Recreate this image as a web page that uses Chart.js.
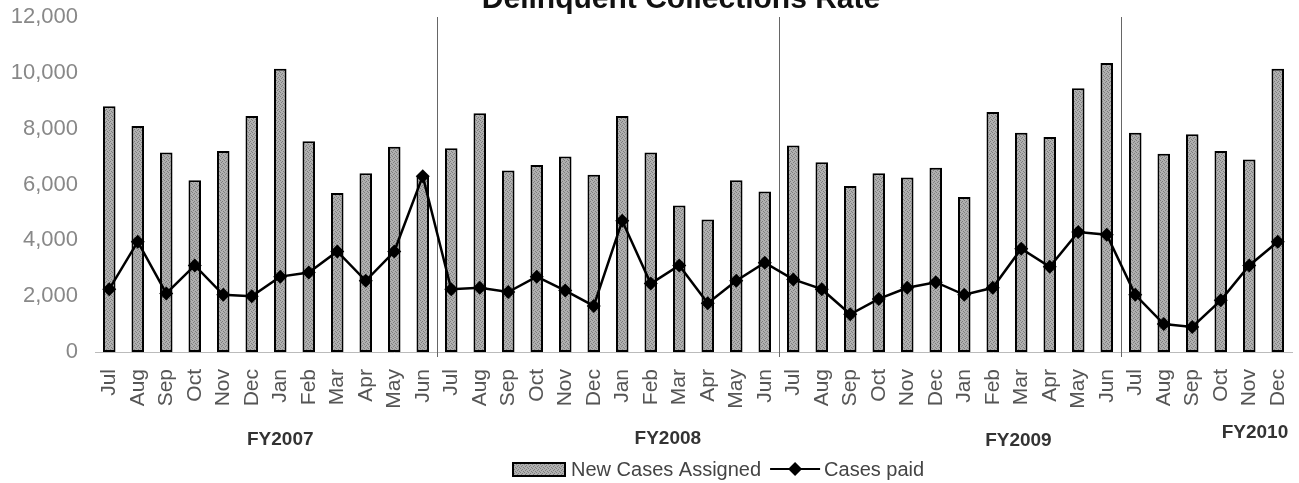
<!DOCTYPE html>
<html>
<head>
<meta charset="utf-8">
<script src="https://cdn.jsdelivr.net/npm/chart.js@4.4.1/dist/chart.umd.min.js"></script>
<style>
  html, body { margin: 0; padding: 0; background: #fff; }
  #wrap { width: 1299px; height: 483px; position: relative; }
</style>
</head>
<body>
<div id="wrap"><canvas id="grafica"></canvas></div>
<script>
const meses = ['Jul','Aug','Sep','Oct','Nov','Dec','Jan','Feb','Mar','Apr','May','Jun',
               'Jul','Aug','Sep','Oct','Nov','Dec','Jan','Feb','Mar','Apr','May','Jun',
               'Jul','Aug','Sep','Oct','Nov','Dec','Jan','Feb','Mar','Apr','May','Jun',
               'Jul','Aug','Sep','Oct','Nov','Dec'];

const nuevos_casos = [8800, 8100, 7150, 6150, 7200, 8450, 10150, 7550, 5700, 6400, 7350, 6300,
                      7300, 8550, 6500, 6700, 7000, 6350, 8450, 7150, 5250, 4750, 6150, 5750,
                      7400, 6800, 5950, 6400, 6250, 6600, 5550, 8600, 7850, 7700, 9450, 10350,
                      7850, 7100, 7800, 7200, 6900, 10150];

const casos_pagados = [2250, 3950, 2100, 3100, 2050, 2000, 2700, 2850, 3600, 2550, 3600, 6300,
                       2250, 2300, 2150, 2700, 2200, 1650, 4700, 2450, 3100, 1750, 2550, 3200,
                       2600, 2250, 1350, 1900, 2300, 2500, 2050, 2300, 3700, 3050, 4300, 4200,
                       2050, 1000, 900, 1850, 3100, 3950];

const anios_fiscales = ['FY2007', 'FY2008', 'FY2009', 'FY2010'];
const cortes_fy = [12, 24, 36];  // first month index of each new fiscal year

const titulo = 'Delinquent Collections Rate';
const leyenda = ['New Cases Assigned', 'Cases paid'];

const fuente = 'Arial, "Liberation Sans", sans-serif';

// textura gris punteada para las barras
function crearTextura(ctx) {
  const c = document.createElement('canvas');
  c.width = 4; c.height = 4;
  const p = c.getContext('2d');
  p.fillStyle = '#b0b0b0';
  p.fillRect(0, 0, 4, 4);
  p.fillStyle = '#7e7e7e';
  [[0,0],[2,1],[1,2],[3,3]].forEach(([x, y]) => p.fillRect(x, y, 1, 1));
  return ctx.createPattern(c, 'repeat');
}

const ctx = document.getElementById('grafica').getContext('2d');
const textura = crearTextura(ctx);

// titulo, separadores de año fiscal, etiquetas FY y leyenda
const extras = {
  id: 'extras',
  beforeDatasetsDraw(chart) {
    const c = chart.ctx, x = chart.scales.x, area = chart.chartArea;
    c.save();
    c.strokeStyle = '#666';
    c.lineWidth = 1;
    cortes_fy.forEach(i => {
      const px = Math.round((x.getPixelForValue(i - 1) + x.getPixelForValue(i)) / 2) + 0.5;
      c.beginPath();
      c.moveTo(px, area.top);
      c.lineTo(px, area.bottom + 5);
      c.stroke();
    });
    c.restore();
  },
  afterDraw(chart) {
    const c = chart.ctx, x = chart.scales.x;
    c.save();
    // titulo (cortado arriba como en el original)
    c.fillStyle = '#111';
    c.font = 'bold 30px ' + fuente;
    c.textAlign = 'center';
    c.textBaseline = 'alphabetic';
    c.fillText(titulo, 681, 8);

    // etiquetas de año fiscal
    const pos_fy = [6.0, 19.6, 31.9, 40.2];
    const y_fy = [440, 439, 441, 433];
    const paso = x.getPixelForValue(1) - x.getPixelForValue(0);
    c.font = 'bold 19px ' + fuente;
    c.fillStyle = '#333';
    c.textBaseline = 'middle';
    anios_fiscales.forEach((t, i) => {
      c.fillText(t, x.getPixelForValue(0) + pos_fy[i] * paso, y_fy[i]);
    });

    // leyenda
    const ly = 469;
    c.font = '20px ' + fuente;
    c.textAlign = 'left';
    c.fillStyle = textura;
    c.fillRect(513, 463, 52, 13);
    c.strokeStyle = '#000';
    c.lineWidth = 2;
    c.strokeRect(513, 463, 52, 13);
    c.fillStyle = '#444';
    c.fillText(leyenda[0], 571, ly + 1);
    const lx = 571 + c.measureText(leyenda[0]).width + 9;
    c.beginPath();
    c.moveTo(lx, ly);
    c.lineTo(lx + 50, ly);
    c.stroke();
    c.fillStyle = '#000';
    c.beginPath();
    c.moveTo(lx + 25, ly - 7);
    c.lineTo(lx + 32, ly);
    c.lineTo(lx + 25, ly + 7);
    c.lineTo(lx + 18, ly);
    c.closePath();
    c.fill();
    c.fillStyle = '#444';
    c.fillText(leyenda[1], lx + 54, ly + 1);
    c.restore();
  }
};

new Chart(ctx, {
  data: {
    labels: meses,
    datasets: [
      {
        type: 'line',
        label: leyenda[1],
        data: casos_pagados,
        borderColor: '#000',
        backgroundColor: '#000',
        borderWidth: 2.5,
        pointStyle: 'rectRot',
        pointRadius: 7,
        pointBackgroundColor: '#000',
        pointBorderWidth: 0,
        tension: 0,
        order: 0
      },
      {
        type: 'bar',
        label: leyenda[0],
        data: nuevos_casos,
        backgroundColor: textura,
        borderColor: '#000',
        borderWidth: 2,
        borderSkipped: false,
        barPercentage: 0.44,
        categoryPercentage: 1,
        order: 1
      }
    ]
  },
  options: {
    responsive: true,
    maintainAspectRatio: false,
    animation: false,
    layout: { padding: { top: 17, right: 0, bottom: 31, left: 0 } },
    plugins: {
      legend: { display: false },
      title: { display: false },
      tooltip: { enabled: false }
    },
    scales: {
      x: {
        grid: { display: false, drawTicks: false },
        border: { display: true, color: '#bbb', dash: [2, 3] },
        ticks: {
          autoSkip: false,
          minRotation: 90,
          maxRotation: 90,
          padding: 17,
          color: '#555',
          font: { family: fuente, size: 21 }
        },
        afterFit(s) {
          s.height = 100;
          s.paddingLeft = 0;
          s.paddingRight = 0;
        }
      },
      y: {
        min: 0,
        max: 12000,
        grid: { display: false, drawTicks: false },
        border: { display: false },
        ticks: {
          stepSize: 2000,
          padding: 17,
          color: '#888',
          font: { family: fuente, size: 22 },
          callback: v => v.toLocaleString('en-US')
        },
        afterFit(s) {
          s.width = 95;
          s.paddingTop = 0;
          s.paddingBottom = 0;
        }
      }
    }
  },
  plugins: [extras]
});
</script>
</body>
</html>
